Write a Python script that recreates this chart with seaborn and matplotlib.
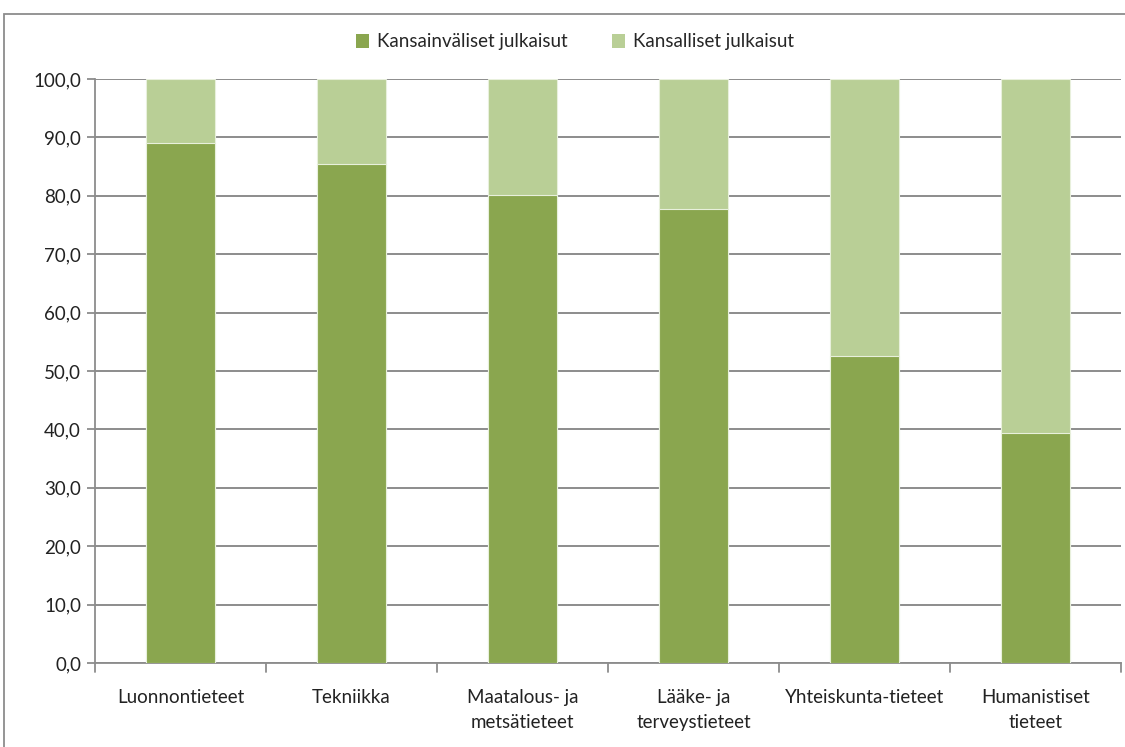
import matplotlib
matplotlib.use("Agg")
import matplotlib.pyplot as plt
import seaborn as sns
import pandas as pd
import numpy as np
from matplotlib.patches import Rectangle, Patch

categories = ["Luonnontieteet", "Tekniikka", "Maatalous- ja\nmetsätieteet",
              "Lääke- ja\nterveystieteet", "Yhteiskunta-tieteet", "Humanistiset\ntieteet"]
international = [89.0, 85.4, 80.1, 77.7, 52.5, 39.4]
national = [11.0, 14.6, 19.9, 22.3, 47.5, 60.6]
series_names = ["Kansainväliset julkaisut", "Kansalliset julkaisut"]
yticks = list(range(0, 101, 10))

dark = "#8AA64F"
light = "#B9CF96"

sns.set_style("white")
plt.rcParams["font.family"] = ["Lato", "DejaVu Sans"]

df = pd.DataFrame({"cat": categories,
                   "intl": international,
                   "total": [a + b for a, b in zip(international, national)]})

fig = plt.figure(figsize=(11.25, 7.47), dpi=100)
ax = fig.add_axes([95/1125, 1 - 663/747, (1121 - 95)/1125, (663 - 79)/747])

sns.barplot(data=df, x="cat", y="total", color=light, width=0.40, ax=ax,
            saturation=1, edgecolor="#E8F0DC", linewidth=0.8, zorder=3)
sns.barplot(data=df, x="cat", y="intl", color=dark, width=0.40, ax=ax,
            saturation=1, edgecolor="#E8F0DC", linewidth=0.8, zorder=4)
if ax.get_legend() is not None:
    ax.get_legend().remove()

ax.set_ylim(0, 100)
ax.set_xlim(-0.5, len(categories) - 0.5)
ax.set_yticks(yticks)
ax.set_yticklabels([f"{v:.1f}".replace(".", ",") for v in yticks], fontsize=13.5, color="#222222")
ax.set_xlabel("")
ax.set_ylabel("")
ax.yaxis.grid(True, color="#8C8C8C", linewidth=1.4, zorder=0)
ax.set_axisbelow(True)

ax.set_xticks(np.arange(len(categories)))
ax.set_xticklabels(categories, fontsize=13.5, color="#222222", linespacing=1.55, va="top")
ax.tick_params(axis="x", length=0, pad=19)
for b in np.arange(-0.5, len(categories), 1.0):
    ax.plot([b, b], [0, -1.6], color="#8C8C8C", lw=1.3, clip_on=False, zorder=5)
ax.tick_params(axis="y", length=6, width=1.3, color="#8C8C8C", pad=4, left=True)

for s in ["top", "right"]:
    ax.spines[s].set_visible(False)
for s in ["left", "bottom"]:
    ax.spines[s].set_color("#8C8C8C")
    ax.spines[s].set_linewidth(1.3)

leg_handles = [Patch(facecolor=dark, edgecolor="none"), Patch(facecolor=light, edgecolor="none")]
fig.legend(leg_handles, series_names, loc="center", bbox_to_anchor=(575/1125, 1 - 42/747),
           ncol=2, frameon=False, fontsize=13.5, handlelength=0.7, handleheight=0.7,
           handletextpad=0.4, columnspacing=2.4)

fig.patches.append(Rectangle((4/1125, -0.01), 1.2, 1 - 14/747 + 0.01, transform=fig.transFigure,
                             fill=False, edgecolor="#8C8C8C", linewidth=1.3))

fig.savefig("out.png", dpi=100)
